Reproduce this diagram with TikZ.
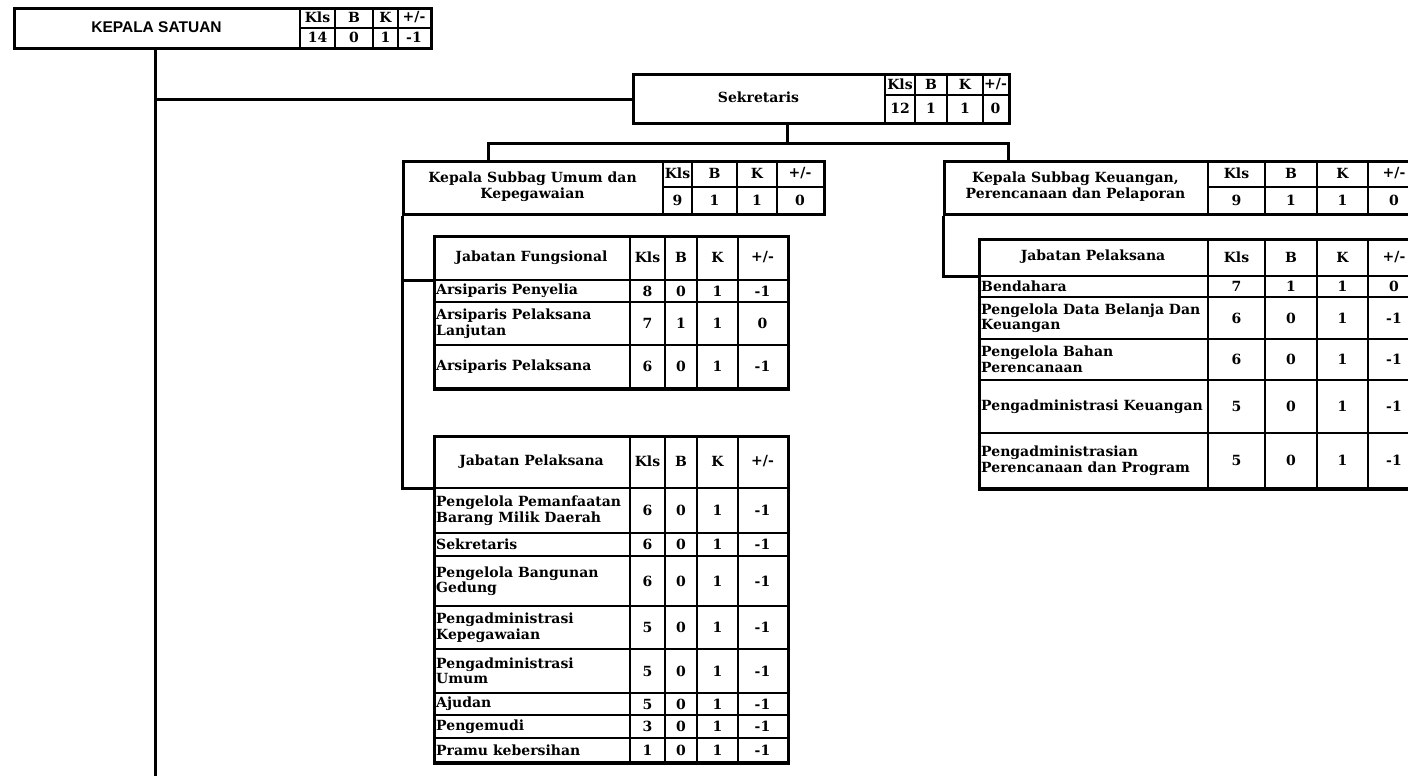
\documentclass[tikz,border=0pt]{standalone}
\usepackage{fontspec}
\setmainfont{DejaVu Serif}
\newfontfamily\titlefont{Liberation Sans}
\usetikzlibrary{positioning,calc}
\tikzset{
  unitbox/.style={draw=black,line width=3pt,inner sep=0pt,anchor=north west},
  cellline/.style={line width=2pt},
  link/.style={line width=3pt},
  celltext/.style={font=\bfseries\fontsize{14}{15.5}\selectfont,inner sep=0pt},
  rowtext/.style={celltext,anchor=west,align=left},
  headtext/.style={celltext,align=center}
}

% column edges of the box or table being drawn
\newcommand{\setcols}[6]{\def\colA{#1}\def\colB{#2}\def\colC{#3}\def\colD{#4}\def\colE{#5}\def\colF{#6}}

% the four count cells between two heights
\newcommand{\countcells}[6]{%
  \draw[cellline] (\colB,#1) -- (\colB,#2) (\colC,#1) -- (\colC,#2) (\colD,#1) -- (\colD,#2) (\colE,#1) -- (\colE,#2);
  \node[headtext] at ({(\colB+\colC)/2},{(#1+#2)/2}) {#3};
  \node[headtext] at ({(\colC+\colD)/2},{(#1+#2)/2}) {#4};
  \node[headtext] at ({(\colD+\colE)/2},{(#1+#2)/2}) {#5};
  \node[headtext] at ({(\colE+\colF)/2},{(#1+#2)/2}) {#6};
}

% unit box: name, top, middle, bottom, label, kls, b, k, +/-
\newcommand{\orgunit}[9]{%
  \node[unitbox,minimum width={(\colF-\colA)*1pt},minimum height={(#4-#2)*1pt}] (#1) at (\colA,#2) {};
  \node[headtext] at ({(\colA+\colB)/2},{(#2+#4)/2}) {#5};
  \draw[cellline] (\colB,#3) -- (\colF,#3);
  \countcells{#2}{#3}{Kls}{B}{K}{+/-}
  \countcells{#3}{#4}{#6}{#7}{#8}{#9}
}

% job table: name, top, header bottom, bottom, title
\newcommand{\jobtable}[5]{%
  \node[unitbox,minimum width={(\colF-\colA)*1pt},minimum height={(#4-#2)*1pt}] (#1) at (\colA,#2) {};
  \coordinate (#1-head) at (\colA,#3);
  \draw[cellline] (\colA,#3) -- (\colF,#3);
  \node[headtext] at ({(\colA+\colB)/2},{(#2+#3)/2}) {#5};
  \countcells{#2}{#3}{Kls}{B}{K}{+/-}
}

% job row: top, bottom, label, kls, b, k, +/-
\newcommand{\jobrow}[7]{%
  \draw[cellline] (\colA,#2) -- (\colF,#2);
  \node[rowtext] at ({\colA+3},{(#1+#2)/2}) {#3};
  \countcells{#1}{#2}{#4}{#5}{#6}{#7}
}

\begin{document}
\begin{tikzpicture}[x=1pt,y=-1pt]
  \useasboundingbox (0,0) rectangle (1408,782);

  % units
  \setcols{13}{300}{335}{373}{398}{430}
  \orgunit{kepala}{7}{28}{47}{\titlefont\fontsize{15.5}{17}\selectfont KEPALA SATUAN}{14}{0}{1}{-1}
  \setcols{632}{885}{915}{947}{983}{1008}
  \orgunit{sekretaris}{73}{95}{122}{Sekretaris}{12}{1}{1}{0}
  \setcols{402}{663}{692}{737}{777}{823}
  \orgunit{umum}{160}{187}{213}{Kepala Subbag Umum dan\\Kepegawaian}{9}{1}{1}{0}
  \setcols{943}{1208}{1265}{1317}{1368}{1420}
  \orgunit{keuangan}{160}{187}{213}{Kepala Subbag Keuangan,\\Perencanaan dan Pelaporan}{9}{1}{1}{0}

  % tables under umum
  \setcols{433}{630}{665}{697}{738}{787}
  \jobtable{fung}{235}{280}{388}{Jabatan Fungsional}
  \jobrow{280}{302}{Arsiparis Penyelia}{8}{0}{1}{-1}
  \jobrow{302}{345}{Arsiparis Pelaksana\\Lanjutan}{7}{1}{1}{0}
  \jobrow{345}{388}{Arsiparis Pelaksana}{6}{0}{1}{-1}

  \jobtable{pelU}{435}{488}{762}{Jabatan Pelaksana}
  \jobrow{488}{533}{Pengelola Pemanfaatan\\Barang Milik Daerah}{6}{0}{1}{-1}
  \jobrow{533}{556}{Sekretaris}{6}{0}{1}{-1}
  \jobrow{556}{606}{Pengelola Bangunan\\Gedung}{6}{0}{1}{-1}
  \jobrow{606}{649}{Pengadministrasi\\Kepegawaian}{5}{0}{1}{-1}
  \jobrow{649}{693}{Pengadministrasi\\Umum}{5}{0}{1}{-1}
  \jobrow{693}{715}{Ajudan}{5}{0}{1}{-1}
  \jobrow{715}{738}{Pengemudi}{3}{0}{1}{-1}
  \jobrow{738}{762}{Pramu kebersihan}{1}{0}{1}{-1}

  % table under keuangan
  \setcols{978}{1208}{1265}{1317}{1368}{1420}
  \jobtable{pelK}{238}{276}{488}{Jabatan Pelaksana}
  \jobrow{276}{297}{Bendahara}{7}{1}{1}{0}
  \jobrow{297}{339}{Pengelola Data Belanja Dan\\Keuangan}{6}{0}{1}{-1}
  \jobrow{339}{380}{Pengelola Bahan\\Perencanaan}{6}{0}{1}{-1}
  \jobrow{380}{433}{Pengadministrasi Keuangan}{5}{0}{1}{-1}
  \jobrow{433}{488}{Pengadministrasian\\Perencanaan dan Program}{5}{0}{1}{-1}

  % connectors
  \coordinate (trunk) at (155,776);
  \coordinate (fork) at (787,143);
  \coordinate (busL) at (488,143);
  \coordinate (busR) at (1008,143);
  \draw[link] (kepala.south -| trunk) -- (trunk);
  \draw[link] (sekretaris.west -| trunk) -- (sekretaris.west);
  \draw[link] (sekretaris.south -| fork) -- (fork);
  \draw[link] (umum.north -| busL) -- (busL) -- (busR) -- (keuangan.north -| busR);
  \draw[link] (umum.south west) |- (pelU-head);
  \draw[link] (umum.south west |- fung-head) -- (fung-head);
  \draw[link] (keuangan.south west) |- (pelK-head);
\end{tikzpicture}
\end{document}
